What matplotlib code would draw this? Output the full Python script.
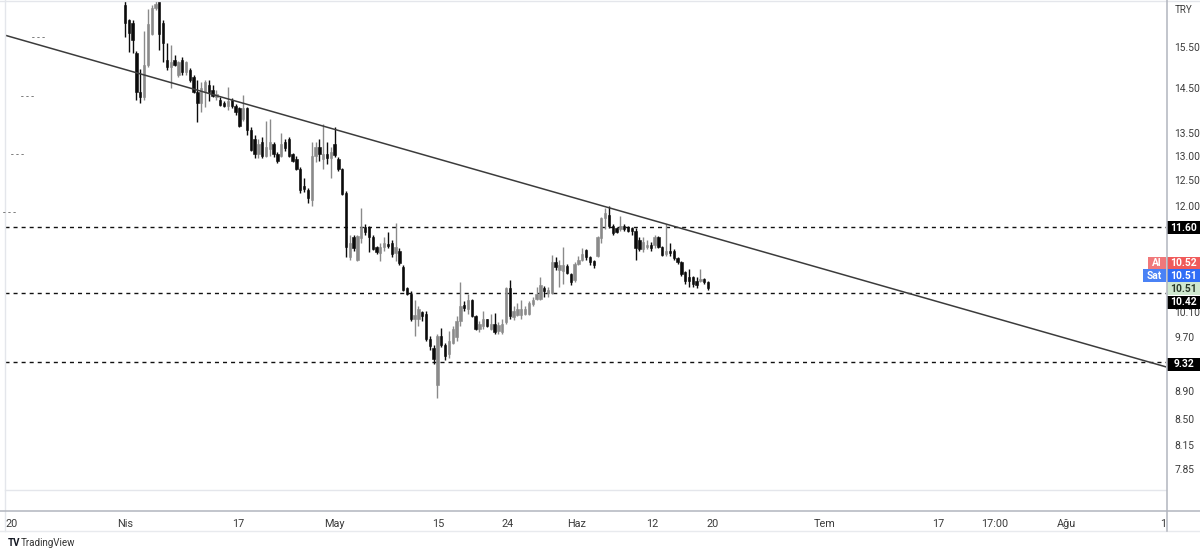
import numpy as np
import matplotlib
matplotlib.use("Agg")
import matplotlib.pyplot as plt
from matplotlib.patches import Rectangle
from matplotlib.lines import Line2D
from matplotlib.ticker import NullLocator

plt.rcParams['font.family'] = ['Roboto', 'DejaVu Sans']

# candles (one per bar)
opens = [16.58, 16.18, 16.12, 15.35, 14.42, 14.31, 15.06, 15.84, 16.52, 16.80,
         16.12, 15.18, 15.01, 15.18, 14.82, 15.18, 14.89, 14.94, 14.77, 14.42,
         14.17, 14.42, 14.58, 14.47, 14.29, 14.22, 14.17, 14.10, 14.22, 14.10,
         14.05, 13.80, 14.05, 13.55, 13.36, 13.05, 13.30, 13.00, 13.15, 13.26,
         13.05, 13.00, 13.30, 13.36, 13.05, 12.94, 12.74, 12.38, 12.30, 12.10,
         13.00, 13.20, 12.94, 13.05, 12.96, 13.25, 12.94, 12.74, 12.24, 11.04,
         11.40, 11.00, 11.38, 11.60, 11.60, 11.40, 11.22, 11.12, 11.22, 11.28,
         11.30, 11.12, 11.15, 10.87, 10.50, 10.40, 9.99, 9.99, 10.10, 10.08,
         9.68, 9.54, 8.98, 9.72, 9.58, 9.45, 9.62, 9.70, 9.96, 10.22,
         10.15, 10.30, 10.04, 9.84, 9.88, 9.99, 9.84, 9.92, 9.80, 9.78,
         9.94, 10.50, 10.02, 10.06, 10.06, 10.08, 10.08, 10.24, 10.32, 10.32,
         10.50, 10.42, 10.42, 10.95, 10.82, 10.80, 10.88, 10.74, 10.64, 10.92,
         11.00, 11.17, 11.04, 10.98, 11.07, 11.38, 11.76, 11.82, 11.62, 11.58,
         11.55, 11.62, 11.60, 11.58, 11.52, 11.35, 11.18, 11.22, 11.26, 11.27,
         11.40, 11.22, 11.10, 11.15, 11.15, 11.02, 10.95, 10.78, 10.70, 10.70,
         10.62, 10.62, 10.66, 10.60]
highs = [16.75, 16.23, 16.18, 15.40, 14.97, 15.92, 16.49, 16.58, 16.70, 17.00,
         16.18, 15.60, 15.55, 15.30, 15.15, 15.25, 15.15, 14.99, 14.82, 14.70,
         14.65, 14.70, 14.70, 14.58, 14.47, 14.30, 14.20, 14.54, 14.28, 14.13,
         14.08, 14.35, 14.08, 13.62, 13.45, 13.36, 13.40, 13.75, 13.79, 13.30,
         13.09, 13.50, 13.36, 13.40, 13.07, 13.00, 12.78, 12.54, 12.34, 13.30,
         13.30, 13.36, 13.70, 13.30, 13.20, 13.62, 12.98, 12.76, 12.28, 11.45,
         11.45, 11.45, 11.95, 11.65, 11.62, 11.45, 11.25, 11.30, 11.40, 11.50,
         11.35, 11.67, 11.20, 10.90, 10.53, 10.45, 10.30, 10.20, 10.12, 10.12,
         9.72, 9.58, 9.75, 9.85, 9.62, 9.80, 9.88, 10.04, 10.60, 10.28,
         10.40, 10.32, 10.06, 9.96, 10.12, 10.00, 10.08, 10.09, 9.94, 10.00,
         10.53, 10.64, 10.20, 10.25, 10.30, 10.20, 10.28, 10.35, 10.52, 10.70,
         10.54, 10.52, 11.08, 11.04, 11.00, 11.22, 10.92, 10.76, 10.95, 11.06,
         11.20, 11.19, 11.06, 11.00, 11.42, 11.78, 11.95, 12.00, 11.65, 11.60,
         11.80, 11.65, 11.62, 11.60, 11.58, 11.40, 11.40, 11.35, 11.32, 11.45,
         11.42, 11.25, 11.65, 11.30, 11.18, 11.05, 10.97, 10.80, 10.83, 10.72,
         10.70, 10.83, 10.68, 10.62]
lows = [15.75, 15.38, 15.35, 14.24, 14.17, 14.24, 15.01, 15.80, 16.45, 15.42,
        15.13, 14.94, 14.52, 15.03, 14.77, 14.82, 14.82, 14.65, 14.40, 13.73,
        13.95, 14.08, 14.20, 14.29, 14.24, 14.10, 14.08, 14.01, 14.05, 13.90,
        13.62, 13.75, 13.45, 13.10, 12.95, 12.95, 12.95, 12.98, 13.00, 12.98,
        12.86, 12.98, 13.10, 12.98, 12.88, 12.72, 12.24, 12.26, 12.05, 12.00,
        12.88, 12.90, 12.74, 12.84, 12.55, 12.98, 12.70, 12.20, 11.04, 11.00,
        11.15, 10.98, 11.30, 11.45, 11.13, 11.17, 11.10, 10.98, 11.15, 11.20,
        11.05, 10.98, 10.90, 10.46, 10.38, 9.96, 9.72, 9.88, 9.96, 9.65,
        9.50, 9.30, 8.80, 9.55, 9.35, 9.38, 9.60, 9.65, 9.88, 10.12,
        10.08, 10.02, 9.82, 9.78, 9.84, 9.86, 9.82, 9.76, 9.76, 9.76,
        9.92, 10.00, 9.98, 10.04, 10.00, 10.05, 10.05, 10.20, 10.30, 10.30,
        10.36, 10.36, 10.40, 10.82, 10.53, 10.57, 10.74, 10.56, 10.60, 10.90,
        10.98, 11.00, 10.90, 10.85, 11.04, 11.30, 11.55, 11.58, 11.45, 11.48,
        11.52, 11.52, 11.50, 11.45, 11.00, 11.15, 11.13, 11.18, 11.15, 11.20,
        11.20, 11.06, 11.06, 11.06, 11.00, 10.92, 10.72, 10.58, 10.52, 10.53,
        10.50, 10.60, 10.58, 10.48]
closes = [16.12, 15.86, 15.67, 14.42, 14.31, 15.06, 16.10, 16.52, 16.62, 15.84,
          15.60, 15.01, 15.13, 15.06, 15.13, 14.89, 15.13, 14.70, 14.42, 14.17,
          14.52, 14.65, 14.42, 14.33, 14.38, 14.12, 14.10, 14.20, 14.10, 13.95,
          13.64, 14.05, 13.55, 13.13, 13.05, 13.26, 13.00, 13.20, 13.30, 13.05,
          12.90, 13.26, 13.17, 13.00, 12.90, 12.74, 12.30, 12.32, 12.14, 13.00,
          13.20, 13.05, 13.05, 12.96, 13.09, 13.02, 12.74, 12.22, 11.22, 11.30,
          11.20, 11.42, 11.60, 11.50, 11.40, 11.18, 11.13, 11.22, 11.30, 11.25,
          11.10, 11.22, 10.93, 10.48, 10.40, 9.99, 10.06, 10.15, 10.04, 9.68,
          9.57, 9.37, 9.72, 9.58, 9.42, 9.65, 9.84, 9.96, 10.20, 10.17,
          10.30, 10.04, 9.84, 9.92, 9.99, 9.88, 9.92, 9.78, 9.90, 9.92,
          10.50, 10.04, 10.12, 10.15, 10.16, 10.16, 10.26, 10.30, 10.40, 10.55,
          10.45, 10.48, 10.95, 10.87, 10.90, 10.90, 10.76, 10.60, 10.92, 11.00,
          11.10, 11.04, 10.95, 10.90, 11.40, 11.76, 11.85, 11.62, 11.49, 11.50,
          11.62, 11.55, 11.52, 11.52, 11.20, 11.18, 11.31, 11.27, 11.20, 11.40,
          11.22, 11.08, 11.15, 11.12, 11.02, 10.95, 10.75, 10.62, 10.62, 10.57,
          10.56, 10.66, 10.60, 10.51]

time_ticks = [-29.7, 0, 29.7, 54.9, 82.2, 100.3, 118.4, 138.3, 154.3, 183.7, 213.4, 228.3, 247.0, 272.4]
time_labels = ["20", "Nis", "17", "May", "15", "24", "Haz", "12", "20", "Tem", "17", "17:00", "Ağu", "1"]
price_ticks = [15.50, 14.50, 13.50, 13.00, 12.50, 12.00, 10.10, 9.70, 8.90, 8.50, 8.15, 7.85]
levels = [11.60, 10.42, 9.32]
trend_x = [-31.5, 273.2]
trend_y = [15.80, 9.25]
ask, bid, last = 10.52, 10.51, 10.51

W, H = 1200, 555
fig = plt.figure(figsize=(W / 100, H / 100), dpi=100)
fig.patch.set_facecolor('white')
ax = fig.add_axes([5 / W, 44 / H, 1161 / W, 509 / H])
ax.set_yscale('log')
ax.set_xlim(-31.5, 273.2)
ax.set_ylim(7.33, 16.67)

o = np.array(opens); h = np.array(highs); l = np.array(lows); c = np.array(closes)
idx = np.arange(len(o))
up = c >= o
cols = np.where(up, '#8a8a8a', '#0b0b0b')
ax.vlines(idx, l, h, colors=cols, lw=1.0, zorder=3)
ax.bar(idx, np.abs(c - o), bottom=np.minimum(o, c), width=0.62, color=cols,
       edgecolor=cols, lw=0.4, zorder=4)

for lv in levels:
    ax.axhline(lv, color='#111111', lw=1.0, ls=(0, (2.9, 2.9)), zorder=2)
ax.plot(trend_x, trend_y, color='#3c3c3c', lw=1.1, zorder=5)

# axes styling
for s in ax.spines.values():
    s.set_visible(False)
ax.yaxis.tick_right()
ax.yaxis.set_minor_locator(NullLocator())
ax.set_yticks(price_ticks)
ax.set_yticklabels([f"{v:.2f}" for v in price_ticks])
ax.tick_params(axis='y', length=0, pad=6, labelsize=7.4, labelcolor='#3b3b3b')
ax.set_xticks(time_ticks)
ax.set_xticklabels(time_labels)
ax.tick_params(axis='x', length=0, pad=6, labelsize=7.8, labelcolor='#3b3b3b')

# frame lines
def fline(x0, y0, x1, y1, color, lw=1.0):
    fig.add_artist(Line2D([x0 / W, x1 / W], [1 - y0 / H, 1 - y1 / H], color=color, lw=lw))

fline(0, 1, 1200, 1, '#e4e6eb')
fline(5, 0, 5, 531, '#e4e6eb')
fline(5, 490, 1166, 490, '#e4e6eb')
fline(0, 511, 1200, 511, '#b2b5be', 1.1)
fline(0, 531, 1200, 531, '#e8eaee')
fline(1166.5, 0, 1166.5, 531, '#b2b5be', 1.1)

fig.text(1175 / W, 1 - 10 / H, "TRY", fontsize=7, color='#3b3b3b', va='center', ha='left')

# small dashed marks at left
for mx, my in [(32, 38), (21, 97), (11, 155), (3, 213)]:
    fig.text(mx / W, 1 - my / H, "- - -", fontsize=7, color='#666666', va='center', ha='left')

def price_box(price, text, fc, tc, dy, x0=1167, x1=1200, fs=7.4):
    yd = ax.transData.transform((0, price))[1]
    yc = yd / H - dy / H
    fig.add_artist(Rectangle((x0 / W, yc - 6.5 / H), (x1 - x0) / W, 13 / H,
                             transform=fig.transFigure, fc=fc, ec='none'))
    fig.text((x0 + x1) / 2 / W, yc, text, fontsize=fs, color=tc, va='center', ha='center',
             fontweight='bold')

price_box(11.60, "11.60", '#000000', 'white', 1)
price_box(10.42, "10.42", '#000000', 'white', 9)
price_box(9.32, "9.32", '#000000', 'white', 2)
price_box(ask, f"{ask:.2f}", '#f05a5a', 'white', -24)
price_box(ask, "Al", '#f0787a', 'white', -24, 1148, 1166)
price_box(bid, f"{bid:.2f}", '#2f6df6', 'white', -12)
price_box(bid, "Sat", '#4a82f5', 'white', -12, 1143, 1166)
price_box(last, f"{last:.2f}", '#cfe8cf', '#2b3b2b', 1)

fig.text(8 / W, 1 - 543 / H, "TV", fontsize=7, fontweight='bold', color='#131722', va='center')
fig.text(21 / W, 1 - 543 / H, "TradingView", fontsize=7, color='#333333', va='center')

fig.savefig("out.png", dpi=100)
